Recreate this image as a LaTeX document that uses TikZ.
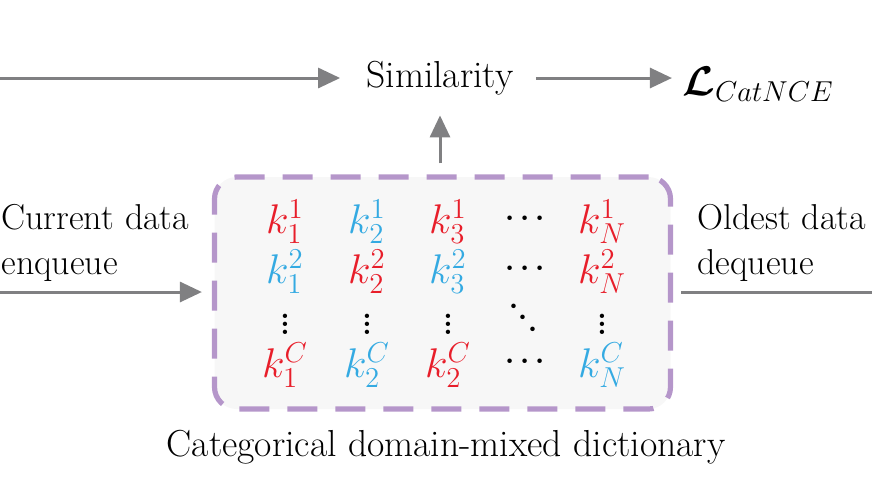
\documentclass[tikz,border=0pt]{standalone}
\usepackage{bm}
\usepackage{tikz}
\usetikzlibrary{arrows.meta}
\definecolor{dictpurple}{RGB}{181,150,202}
\definecolor{dictfill}{RGB}{247,247,247}
\definecolor{keyred}{RGB}{232,30,42}
\definecolor{keyblue}{RGB}{52,170,226}
\definecolor{flowgray}{RGB}{128,128,130}
\tikzstyle{txt} = [font=\rmfamily\fontsize{18.8}{22.5}\selectfont, align=left, inner sep=0pt]
\tikzstyle{side} = [txt, font=\rmfamily\fontsize{18}{22.5}\selectfont, anchor=west]
\tikzstyle{dict} = [draw=dictpurple, fill=dictfill, line width=2.6pt, dash pattern=on 15pt off 9pt, rounded corners=11pt, minimum width=228pt, minimum height=116pt]
\tikzstyle{key} = [font=\fontsize{20}{24}\selectfont, inner sep=0pt]
\tikzstyle{dots} = [font=\fontsize{15}{17}\selectfont, inner sep=0pt]
\tikzstyle{arrow} = [flowgray, line width=1.5pt]
\tikzstyle{arrow1} = [flowgray, line width=1.5pt, -{Triangle[length=11pt,width=10pt]}]

\begin{document}
\begin{tikzpicture}[x=0.5pt, y=-0.5pt]
\useasboundingbox (0,0) rectangle (872,484);

% Place nodes
\node [dict] (dict) at (442.5,293) {};
\node [txt] (sim) at (440,78) {Similarity};
\node [txt, font=\fontsize{20}{24}\selectfont] (loss) at (758,84) {$\bm{\mathcal{L}}_{CatNCE}$};
\node [side] (current) at (1,243) {Current data\\enqueue};
\node [side] (oldest) at (697,243) {Oldest data\\dequeue};
\node [txt] (caption) at (446,447) {Categorical domain-mixed dictionary};
\coordinate (inleft) at (0,78);
\coordinate (enq) at (0,292);
\coordinate (deq) at (872,292);

% Dictionary entries
\node [key, text=keyred]  (k11) at (285,222) {$k_1^1$};
\node [key, text=keyblue] (k12) at (367,222) {$k_2^1$};
\node [key, text=keyred]  (k13) at (448,222) {$k_3^1$};
\node [dots]              (c1)  at (525,219) {$\bm{\cdots}$};
\node [key, text=keyred]  (k1N) at (602,222) {$k_N^1$};
\node [key, text=keyblue] (k21) at (285,272) {$k_1^2$};
\node [key, text=keyred]  (k22) at (367,272) {$k_2^2$};
\node [key, text=keyblue] (k23) at (448,272) {$k_3^2$};
\node [dots]              (c2)  at (525,269) {$\bm{\cdots}$};
\node [key, text=keyred]  (k2N) at (602,272) {$k_N^2$};
\node [dots] (v1) at (285,318) {$\bm{\vdots}$};
\node [dots] (v2) at (367,318) {$\bm{\vdots}$};
\node [dots] (v3) at (448,318) {$\bm{\vdots}$};
\node [dots, rotate=-50] (dd) at (523,318) {$\bm{\cdots}$};
\node [dots] (v5) at (602,318) {$\bm{\vdots}$};
\node [key, text=keyred]  (kC1) at (285,365) {$k_1^C$};
\node [key, text=keyblue] (kC2) at (367,365) {$k_2^C$};
\node [key, text=keyred]  (kC3) at (448,365) {$k_2^C$};
\node [dots]              (c3)  at (525,362) {$\bm{\cdots}$};
\node [key, text=keyblue] (kCN) at (602,365) {$k_N^C$};

% Place lines
\draw [arrow1] (inleft) -- ([xshift=-13pt]sim.west |- inleft);
\draw [arrow1] ([xshift=11pt]sim.east) -- ([xshift=-5pt]loss.west |- sim.east);
\draw [arrow1] ([yshift=5.5pt]dict.north -| sim.south) -- ([yshift=-10pt]sim.south);
\draw [arrow1] (enq) -- ([xshift=-5pt]dict.west |- enq);
\draw [arrow] ([xshift=4pt]dict.east |- deq) -- (deq);

\end{tikzpicture}
\end{document}
